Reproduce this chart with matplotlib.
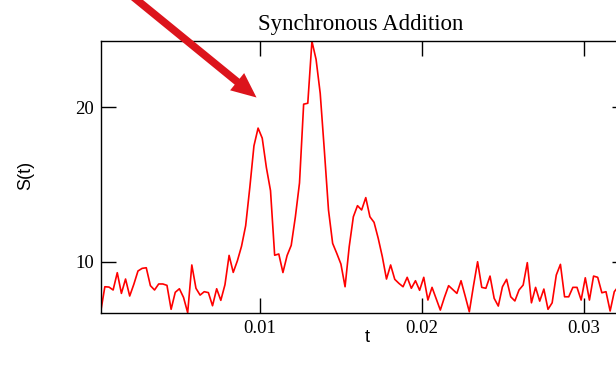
import numpy as np
import matplotlib
matplotlib.use('Agg')
import matplotlib.pyplot as plt
from matplotlib.patches import FancyArrowPatch, ArrowStyle

# ======================================================================================================================
# Data (128 samples)
# ======================================================================================================================
dt = 0.000256  # Sample spacing in t
t0 = 0.00015   # First sample time
s_vals = [6.76, 8.38, 8.36, 8.17, 9.29, 7.95, 8.88, 7.78, 8.54, 9.40,
          9.57, 9.61, 8.45, 8.17, 8.56, 8.56, 8.47, 6.92, 8.02, 8.25,
          7.69, 6.70, 9.79, 8.28, 7.84, 8.06, 8.00, 7.15, 8.25, 7.50,
          8.51, 10.41, 9.31, 10.06, 11.00, 12.33, 14.8, 17.5, 18.65, 18.0,
          16.1, 14.6, 10.42, 10.5, 9.30, 10.4, 11.06, 12.9, 15.1, 20.2,
          20.26, 24.27, 23.1, 20.9, 17.2, 13.35, 11.19, 10.54, 9.85, 8.38,
          10.97, 12.91, 13.63, 13.35, 14.15, 12.91, 12.55, 11.52, 10.32, 8.88,
          9.79, 8.86, 8.60, 8.38, 8.99, 8.28, 8.77, 8.15, 8.99, 7.52,
          8.34, 7.6, 6.87, 7.7, 8.45, 8.2, 7.95, 8.77, 7.78, 6.76,
          8.43, 10.0, 8.34, 8.28, 9.07, 7.63, 7.13, 8.38, 8.86, 7.73,
          7.46, 8.17, 8.49, 9.94, 7.34, 8.34, 7.45, 8.23, 6.92, 7.34,
          9.14, 9.83, 7.73, 7.73, 8.34, 8.34, 7.52, 8.96, 7.52, 9.07,
          8.99, 7.99, 8.06, 6.81, 8.06, 8.4, 7.9, 8.3]
x_ticks = [0.01, 0.02, 0.03]
x_tick_labels = ['0.01', '0.02', '0.03']
y_ticks = [10, 20]
y_tick_labels = ['10', '20']
title = 'Synchronous Addition'
# ======================================================================================================================

s = np.array(s_vals)
t = t0 + dt * np.arange(len(s))  # Time axis

serif = ['Liberation Serif', 'DejaVu Serif']
sans = ['Liberation Sans', 'DejaVu Sans']

W, H = 616, 375
fig = plt.figure(figsize=(W / 100, H / 100), dpi=100)
# Axes extends past the right edge of the picture, as in the reference
ax_l, ax_r, ax_t, ax_b = 100.7, 626.7, 41.3, 312.7
ax = fig.add_axes([ax_l / W, 1 - ax_b / H, (ax_r - ax_l) / W, (ax_b - ax_t) / H])

ax.plot(t, s, color='#ff0000', lw=1.2)
ax.set_xlim(t[0], t[-1])
ax.set_ylim(s.min(), s.max())

ax.set_xticks(x_ticks)
ax.set_xticklabels(x_tick_labels, family=serif, fontsize=13.5)
ax.set_yticks(y_ticks)
ax.set_yticklabels(y_tick_labels, family=serif, fontsize=13.5)
ax.tick_params(direction='in', length=10.8, width=1.0, top=True, right=True, pad=5, colors='black')
for sp in ax.spines.values():
    sp.set_linewidth(1.0)

ax.set_title(title, family=serif, fontsize=16.5, pad=8)
ax.title.set_x((361 - ax_l) / (ax_r - ax_l))  # Title centre sits a little left of the axes centre
ax.set_xlabel('t', family=sans, fontsize=13, va='center')
ax.xaxis.set_label_coords((367 - ax_l) / (ax_r - ax_l), (ax_b - 338) / (ax_b - ax_t))
ax.set_ylabel('S(t)', family=sans, fontsize=13, va='center')
ax.yaxis.set_label_coords((26 - ax_l) / (ax_r - ax_l), (ax_b - 175) / (ax_b - ax_t))

# Red pointer arrow (figure pixel coords, top-down)
start = (112.5, -20)
tip = (256.5, 97.5)
arrow = FancyArrowPatch((start[0] / W, 1 - start[1] / H), (tip[0] / W, 1 - tip[1] / H),
                        transform=fig.transFigure,
                        arrowstyle=ArrowStyle.Simple(head_length=1.8, head_width=1.6, tail_width=0.55),
                        mutation_scale=10, color='#dc141c', lw=0, shrinkA=0, shrinkB=0, clip_on=False)
fig.add_artist(arrow)

fig.savefig('out.png', dpi=100)
